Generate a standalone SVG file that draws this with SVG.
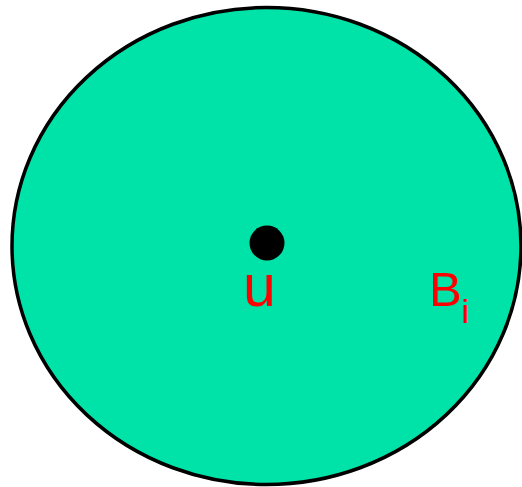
<svg xmlns="http://www.w3.org/2000/svg" width="522" height="487" viewBox="0 0 522 487">
<style>
.lbl{font-family:"Liberation Sans",Arial,sans-serif;fill:#FF0000}
</style>
<rect width="522" height="487" fill="#FFFFFF"/>
<g id="ball">
<ellipse cx="266.5" cy="246" rx="254.5" ry="238.5" fill="#00E3A8" stroke="#000000" stroke-width="3.5"/>
</g>
<g id="node-u">
<circle cx="267" cy="243" r="17.5" fill="#000000"/>
<text class="lbl" x="243" y="306" font-size="59">u</text>
</g>
<g id="label-B">
<text class="lbl" x="429" y="306" font-size="49">B</text>
<text class="lbl" x="461.5" y="323" font-size="34">i</text>
</g>
<g id="connectors"/>
</svg>
